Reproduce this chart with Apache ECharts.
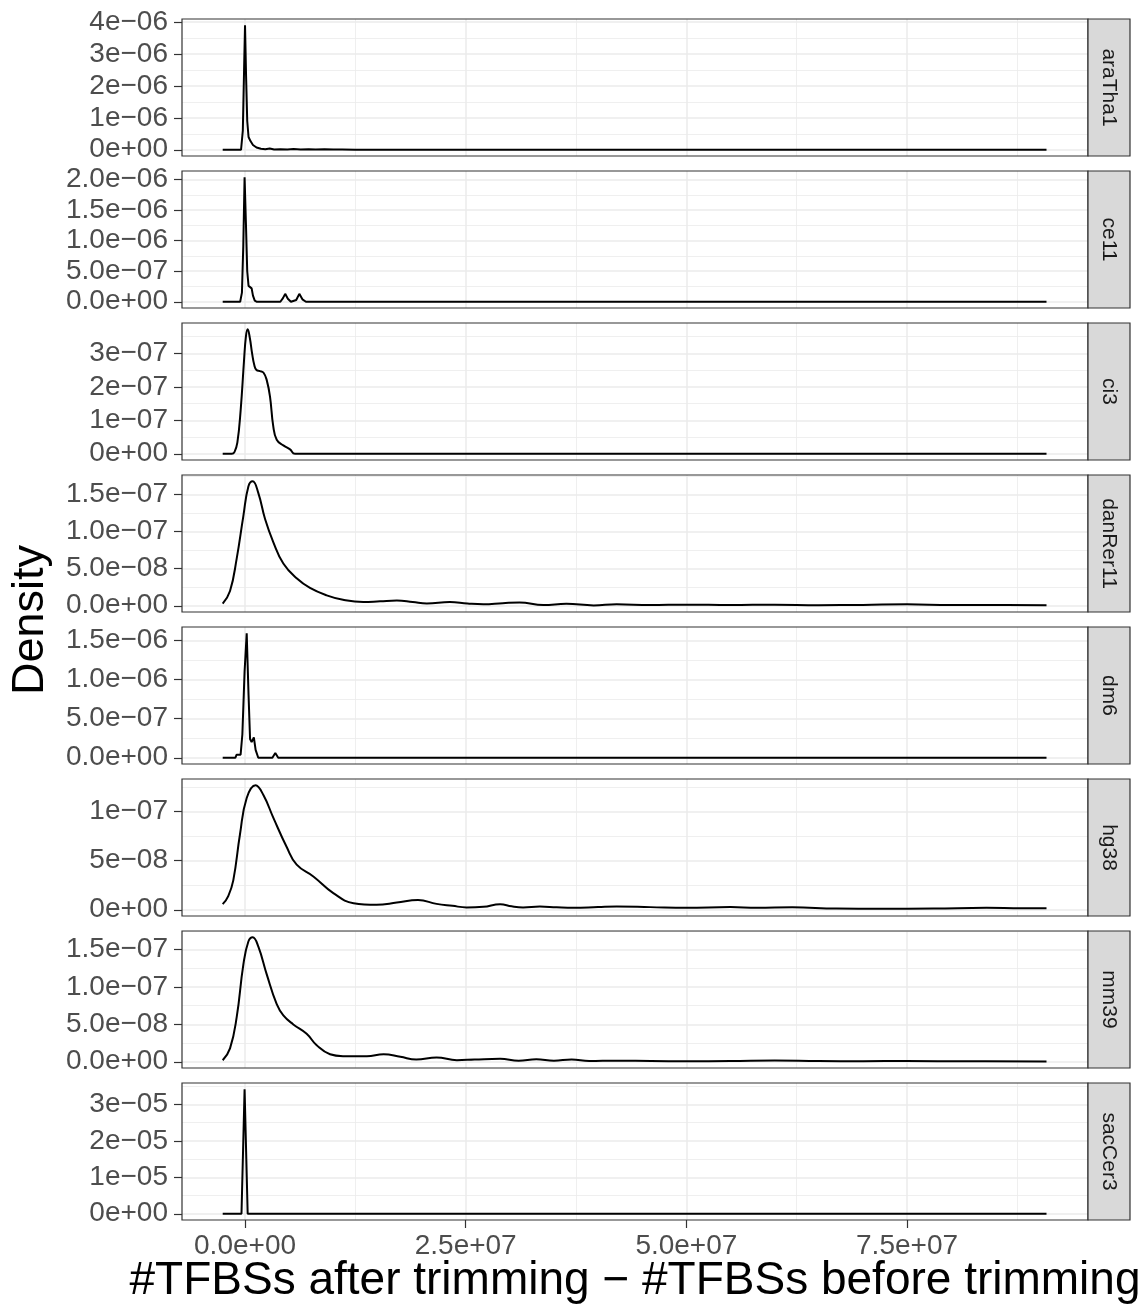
<!DOCTYPE html>
<html>
<head>
<meta charset="utf-8">
<script src="https://cdn.jsdelivr.net/npm/echarts@6/dist/echarts.min.js"></script>
<style>
  html, body { margin: 0; padding: 0; background: #fff; }
  #chart { width: 1143px; height: 1308px; }
</style>
</head>
<body>
<div id="chart"></div>
<script>
// facet names, top to bottom
const genomes = ['araTha1', 'ce11', 'ci3', 'danRer11', 'dm6', 'hg38', 'mm39', 'sacCer3']

// x in units of 1e6 (#TFBSs after - before), y in the unit given in yUnits
const araTha1X = [-2.53, -0.45, -0.25, -0.1, 0, 0.12, 0.25, 0.4, 0.6, 0.9, 1.3, 1.8, 2.3, 2.8, 3.3, 4.0, 4.8, 5.5, 6.3, 7.2, 8.0, 9.0, 10.0, 11.0, 12.5, 90.8]
const araTha1Y = [0, 0, 0.6, 2.6, 3.9, 2.3, 0.9, 0.4, 0.28, 0.15, 0.07, 0.03, 0.015, 0.04, 0.01, 0.02, 0.01, 0.025, 0.01, 0.02, 0.01, 0.015, 0.005, 0.012, 0, 0]

const ce11X = [-2.53, -0.55, -0.35, -0.2, -0.05, 0.1, 0.25, 0.4, 0.55, 0.75, 0.9, 1.1, 1.35, 4.0, 4.3, 4.55, 4.85, 5.2, 5.8, 6.15, 6.5, 6.9, 90.8]
const ce11Y = [0, 0, 0.15, 0.9, 2.04, 1.3, 0.5, 0.26, 0.27, 0.22, 0.1, 0.02, 0, 0, 0.06, 0.13, 0.05, 0, 0.03, 0.13, 0.04, 0, 0]

const ci3X = [-2.53, -1.5, -1.2, -0.87, -0.49, -0.11, 0.1, 0.3, 0.55, 0.8, 1.05, 1.3, 1.7, 2.1, 2.46, 2.83, 3.2, 3.59, 4.34, 5.1, 5.66, 90.8]
const ci3Y = [0, 0, 0.05, 0.33, 1.32, 2.8, 3.5, 3.72, 3.45, 3.0, 2.65, 2.5, 2.47, 2.42, 2.2, 1.71, 0.82, 0.42, 0.25, 0.13, 0, 0]

const danRer11X = [-2.53, -1.7, -0.94, -0.19, 0.38, 0.87, 1.51, 2.27, 3.2, 4.34, 5.85, 7.36, 9.25, 11.1, 13.4, 15.3, 17.2, 19.0, 20.6, 23.2, 25.2, 27, 29.2, 31.1, 33.8, 36.4, 39.5, 42.1, 45.9, 50, 55, 60, 65, 70, 75, 80, 85, 90.8]
const danRer11Y = [0.03, 0.2, 0.64, 1.21, 1.61, 1.68, 1.52, 1.17, 0.86, 0.57, 0.37, 0.24, 0.14, 0.08, 0.05, 0.06, 0.07, 0.05, 0.03, 0.05, 0.03, 0.02, 0.035, 0.045, 0.01, 0.027, 0.005, 0.02, 0.01, 0.015, 0.01, 0.015, 0.008, 0.012, 0.02, 0.01, 0.012, 0.008]

const dm6X = [-2.53, -1.1, -0.95, -0.5, -0.3, -0.05, 0.19, 0.4, 0.57, 0.75, 1.0, 1.2, 1.5, 3.1, 3.43, 3.76, 90.8]
const dm6Y = [0, 0, 0.04, 0.04, 0.3, 1.1, 1.59, 0.8, 0.24, 0.2, 0.26, 0.1, 0, 0, 0.06, 0, 0]

const hg38X = [-2.53, -1.9, -1.33, -0.57, 0.19, 1.2, 2.08, 3.2, 4.72, 5.85, 7.74, 10, 12.3, 14.9, 17.2, 19.6, 21.7, 23.5, 25.1, 27, 28.9, 30.2, 31.5, 33.4, 35.3, 37.2, 40, 42.1, 45.9, 50, 55, 58, 62, 67, 72, 78, 84, 88, 90.8]
const hg38Y = [0.057, 0.14, 0.3, 0.77, 1.14, 1.27, 1.17, 0.94, 0.64, 0.46, 0.34, 0.17, 0.067, 0.05, 0.073, 0.1, 0.06, 0.04, 0.024, 0.03, 0.057, 0.035, 0.024, 0.033, 0.025, 0.02, 0.028, 0.033, 0.027, 0.02, 0.028, 0.02, 0.025, 0.012, 0.01, 0.012, 0.02, 0.015, 0.015]

const mm39X = [-2.53, -1.7, -0.94, -0.19, 0.38, 0.87, 1.51, 2.46, 3.59, 4.34, 5.47, 6.98, 8.12, 9.63, 11.1, 13.8, 15.7, 17.6, 19.4, 21.7, 24, 26, 28.9, 31, 33, 35, 37, 39, 42, 46, 50, 55, 60, 65, 70, 75, 82, 90.8]
const mm39Y = [0.02, 0.18, 0.6, 1.3, 1.61, 1.667, 1.54, 1.17, 0.77, 0.62, 0.5, 0.375, 0.22, 0.1, 0.075, 0.075, 0.1, 0.066, 0.03, 0.057, 0.022, 0.03, 0.04, 0.015, 0.035, 0.015, 0.03, 0.01, 0.015, 0.01, 0.008, 0.01, 0.018, 0.01, 0.008, 0.01, 0.006, 0.005]

const sacCer3X = [-2.53, -0.4, -0.05, 0.3, 90.8]
const sacCer3Y = [0, 0, 3.42, 0, 0]

const xsAll = [araTha1X, ce11X, ci3X, danRer11X, dm6X, hg38X, mm39X, sacCer3X]
const ysAll = [araTha1Y, ce11Y, ci3Y, danRer11Y, dm6Y, hg38Y, mm39Y, sacCer3Y]
const yUnits = [1e-6, 1e-6, 1e-7, 1e-7, 1e-6, 1e-7, 1e-7, 1e-5]
const smoothed = [false, false, true, true, false, true, true, false]

// tick positions (in yUnits) and decimals used by the labels
const yTicks = [
  [0, 1, 2, 3, 4],
  [0, 0.5, 1, 1.5, 2],
  [0, 1, 2, 3],
  [0, 0.5, 1, 1.5],
  [0, 0.5, 1, 1.5],
  [0, 0.5, 1],
  [0, 0.5, 1, 1.5],
  [0, 1, 2, 3],
]
const yStep = [1, 0.5, 1, 0.5, 0.5, 0.5, 0.5, 1]
const yDigits = [0, 1, 0, 1, 1, 0, 1, 0]

const xTicks = [0, 2.5e7, 5e7, 7.5e7]
const xMin = -7.14e6
const xMax = 9.55e7

// layout
const FONT = "'Liberation Sans', Arial, Helvetica, sans-serif"
const LEFT = 182
const RIGHT = 1088
const STRIP_W = 42
const TOP0 = 19
const STEP = 152
const PANEL_H = 137

const sci = (v, d) => {
  const s = Number(v).toExponential(d)
  const [m, e] = s.split('e')
  const n = parseInt(e, 10)
  const sign = n < 0 ? '\u2212' : '+'
  return m + 'e' + sign + String(Math.abs(n)).padStart(2, '0')
}

const chart = echarts.init(document.getElementById('chart'), null, { renderer: 'canvas' })

const grids = [], xAxes = [], yAxes = [], series = [], graphics = []

genomes.forEach((g, i) => {
  const top = TOP0 + i * STEP
  const unit = yUnits[i]
  const peak = Math.max(...ysAll[i]) * unit
  const last = i === genomes.length - 1

  grids.push({
    left: LEFT, top, width: RIGHT - LEFT, height: PANEL_H,
    show: true, backgroundColor: '#fff', borderWidth: 0,
    containLabel: false, outerBoundsMode: 'none',
  })

  xAxes.push({
    gridIndex: i, type: 'value', position: 'bottom', min: xMin, max: xMax,
    minInterval: 2.5e7, maxInterval: 2.5e7,
    axisLine: { show: false, onZero: false },
    axisTick: { show: last, length: 8, customValues: xTicks, lineStyle: { color: '#333', width: 1.2 } },
    axisLabel: {
      show: last, customValues: xTicks, margin: 12, color: '#4D4D4D', fontSize: 28, fontFamily: FONT,
      formatter: v => sci(v, 1),
    },
    splitLine: { show: true, lineStyle: { color: '#EBEBEB', width: 1.5 } },
    minorTick: { show: false, splitNumber: 2 },
    minorSplitLine: { show: true, lineStyle: { color: '#EBEBEB', width: 0.8 } },
  })

  const ticks = yTicks[i].map(t => t * unit)
  yAxes.push({
    gridIndex: i, type: 'value', position: 'left', min: -0.05 * peak, max: 1.05 * peak,
    minInterval: yStep[i] * unit, maxInterval: yStep[i] * unit,
    axisLine: { show: false, onZero: false },
    axisTick: { show: true, length: 8, customValues: ticks, lineStyle: { color: '#333', width: 1.2 } },
    axisLabel: {
      customValues: ticks, margin: 14, color: '#4D4D4D', fontSize: 28, fontFamily: FONT,
      hideOverlap: false, formatter: v => sci(v, yDigits[i]),
    },
    splitLine: { show: true, lineStyle: { color: '#EBEBEB', width: 1.5 } },
    minorTick: { show: false, splitNumber: 2 },
    minorSplitLine: { show: true, lineStyle: { color: '#EBEBEB', width: 0.8 } },
  })

  series.push({
    type: 'line', xAxisIndex: i, yAxisIndex: i,
    data: xsAll[i].map((x, k) => [x * 1e6, ysAll[i][k] * unit]),
    showSymbol: false, symbol: 'none',
    smooth: smoothed[i] ? 0.45 : false,
    lineStyle: { color: '#000', width: 2 },
    z: 5,
  })

  // panel border on top of grid lines
  graphics.push({
    type: 'rect', z: 100,
    shape: { x: LEFT, y: top, width: RIGHT - LEFT, height: PANEL_H },
    style: { fill: 'none', stroke: '#333333', lineWidth: 1.2 },
  })
  // facet strip
  graphics.push({
    type: 'rect', z: 100,
    shape: { x: RIGHT, y: top, width: STRIP_W, height: PANEL_H },
    style: { fill: '#D9D9D9', stroke: '#333333', lineWidth: 1.2 },
  })
  graphics.push({
    type: 'text', z: 101,
    x: RIGHT + STRIP_W / 2, y: top + PANEL_H / 2, rotation: -Math.PI / 2,
    style: {
      text: g, font: '21px ' + FONT, fill: '#1A1A1A',
      align: 'center', verticalAlign: 'middle', textAlign: 'center', textVerticalAlign: 'middle',
    },
  })
})

// axis titles
graphics.push({
  type: 'text', z: 101, x: 31, y: 620, rotation: Math.PI / 2,
  style: {
    text: 'Density', font: '45px ' + FONT, fill: '#000',
    align: 'center', verticalAlign: 'middle', textAlign: 'center', textVerticalAlign: 'middle',
  },
})
graphics.push({
  type: 'text', z: 101, x: (LEFT + RIGHT) / 2, y: 1281,
  style: {
    text: '#TFBSs after trimming \u2212 #TFBSs before trimming', font: '46px ' + FONT, fill: '#000',
    align: 'center', verticalAlign: 'middle', textAlign: 'center', textVerticalAlign: 'middle',
  },
})

chart.setOption({
  animation: false,
  backgroundColor: '#fff',
  grid: grids,
  xAxis: xAxes,
  yAxis: yAxes,
  series,
  graphic: graphics,
})

window.addEventListener('resize', () => chart.resize())
</script>
</body>
</html>
